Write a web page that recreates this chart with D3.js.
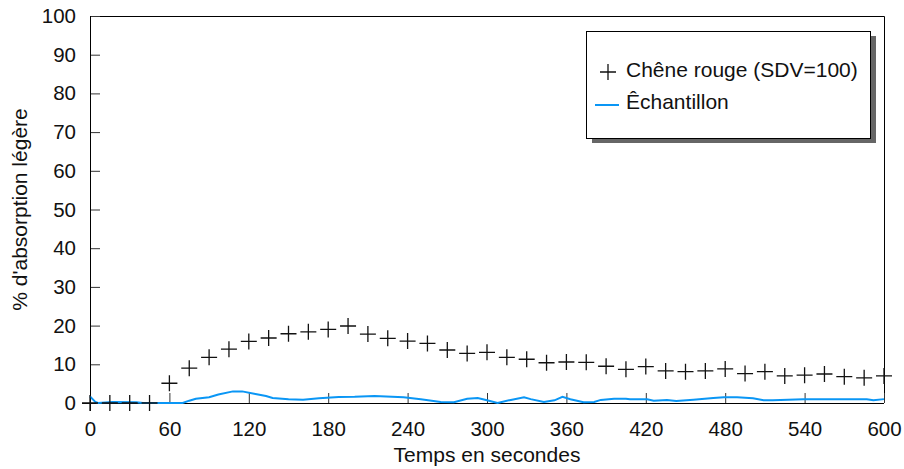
<!DOCTYPE html>
<html lang="fr">
<head>
<meta charset="UTF-8">
<title>Absorption légère</title>
<style>
body { margin: 0; background: #fff; }
text { font-family: "Liberation Sans", Arial, sans-serif; }
.axis .domain { display: none; }
</style>
</head>
<body>
<svg width="904" height="469"></svg>
<script src="https://d3js.org/d3.v7.min.js"></script>
<script>

// reference series: one marker every 15 s
var refTimes = [0, 15, 30, 45, 60, 75, 90, 105, 120, 135, 150, 165, 180, 195, 210, 225, 240, 255, 270, 285,
                300, 315, 330, 345, 360, 375, 390, 405, 420, 435, 450, 465, 480, 495, 510, 525, 540, 555, 570, 585, 600];
var refValues = [0, 0, 0, 0, 5.1, 9.0, 11.8, 13.9, 15.9, 16.8, 17.9, 18.4, 19.0, 19.9, 17.8, 16.7, 16.0, 15.4, 13.7, 12.8,
                 13.1, 11.8, 11.3, 10.4, 10.6, 10.5, 9.5, 8.7, 9.4, 8.3, 8.1, 8.3, 8.8, 7.6, 8.1, 7.0, 7.2, 7.5, 6.8, 6.5, 7.0];

// sample curve
var sampleTimes = [0, 4, 6, 17, 35, 40, 70, 75, 80, 90, 97, 108, 115, 125, 133, 138, 150, 161, 173, 188,
                   200, 215, 237, 250, 265, 275, 285, 293, 300, 308, 318, 328, 333, 343, 351, 357, 363, 373, 381, 386,
                   396, 405, 408, 421, 426, 436, 443, 456, 471, 479, 489, 501, 509, 516, 539, 564, 587, 592, 600];
var sampleValues = [1.7, 0.3, 0, 0.25, 0.2, 0, 0, 0.6, 1.1, 1.5, 2.2, 3.0, 3.0, 2.3, 1.8, 1.3, 0.95, 0.85, 1.2, 1.55,
                    1.6, 1.8, 1.5, 0.95, 0.25, 0.2, 1.1, 1.3, 0.7, 0, 0.8, 1.5, 1.0, 0.25, 0.7, 1.6, 0.95, 0.2, 0.25, 0.8,
                    1.1, 1.1, 0.95, 0.95, 0.6, 0.8, 0.5, 0.85, 1.3, 1.5, 1.5, 1.2, 0.7, 0.7, 1.0, 0.95, 0.95, 0.7, 1.0];

var xTicks = [0, 60, 120, 180, 240, 300, 360, 420, 480, 540, 600];
var yTicks = [0, 10, 20, 30, 40, 50, 60, 70, 80, 90, 100];
var seriesNames = ["Chêne rouge (SDV=100)", "Êchantillon"];
var xTitle = "Temps en secondes",
    yTitle = "% d'absorption légère";

var svg = d3.select("svg"),
    margin = {top: 16, right: 20, bottom: 66, left: 90},
    width = +svg.attr("width") - margin.left - margin.right,
    height = +svg.attr("height") - margin.top - margin.bottom,
    g = svg.append("g").attr("transform", "translate(" + margin.left + "," + margin.top + ")");

var x = d3.scaleLinear().domain([0, 600]).range([0, width]);
var y = d3.scaleLinear().domain([0, 100]).range([height, 0]);
var blue = "#0a96f5";

// frame (top + right)
g.append("path")
    .attr("d", "M0,0.5H" + (width + 0.5) + "V" + height)
    .attr("fill", "none")
    .attr("stroke", "#000");

// ticks point inward
g.append("g")
    .attr("class", "axis")
    .attr("transform", "translate(0," + height + ")")
    .call(d3.axisBottom(x).tickValues(xTicks).tickSize(-10).tickPadding(18))
    .call(function(a) {
      a.selectAll("line").attr("stroke", "#333");
      a.selectAll("text").attr("font-size", 20.5).attr("fill", "#111")
        .attr("font-family", "Liberation Sans, Arial, sans-serif");
    });

g.append("g")
    .attr("class", "axis")
    .call(d3.axisLeft(y).tickValues(yTicks).tickSize(-10).tickPadding(14))
    .call(function(a) {
      a.selectAll("line").attr("stroke", "#333");
      a.selectAll("text").attr("font-size", 20.5).attr("fill", "#111")
        .attr("font-family", "Liberation Sans, Arial, sans-serif");
    });

// axis lines, crossing a little past the origin
g.append("line")
    .attr("x1", -8).attr("x2", width)
    .attr("y1", y(0) + 0.5).attr("y2", y(0) + 0.5)
    .attr("stroke", "#000");
g.append("line")
    .attr("x1", 0.5).attr("x2", 0.5)
    .attr("y1", 0).attr("y2", y(0) + 8)
    .attr("stroke", "#000");

// sample line
var sample = sampleTimes.map(function(t, i) { return {t: t, v: sampleValues[i]}; });
g.append("path")
    .datum(sample)
    .attr("fill", "none")
    .attr("stroke", blue)
    .attr("stroke-width", 2)
    .attr("d", d3.line().x(function(d) { return x(d.t); }).y(function(d) { return y(d.v); }));

// reference markers
var plus = function(s) { return "M" + (-s) + ",0H" + s + "M0," + (-s) + "V" + s; };
g.append("g")
  .selectAll("path")
  .data(refTimes.map(function(t, i) { return {t: t, v: refValues[i]}; }))
  .enter().append("path")
    .attr("transform", function(d) { return "translate(" + x(d.t) + "," + y(d.v) + ")"; })
    .attr("d", plus(8))
    .attr("stroke", "#111")
    .attr("stroke-width", 1.3);

// axis titles
svg.append("text")
    .attr("x", margin.left + width / 2)
    .attr("y", 462)
    .attr("text-anchor", "middle")
    .attr("font-size", 21)
    .attr("fill", "#111")
    .text(xTitle);

svg.append("text")
    .attr("transform", "translate(27," + (margin.top + height / 2) + ") rotate(-90)")
    .attr("text-anchor", "middle")
    .attr("font-size", 21)
    .attr("fill", "#111")
    .text(yTitle);

// legend
var legend = svg.append("g").attr("transform", "translate(586,31)");
legend.append("rect")
    .attr("x", 6).attr("y", 5)
    .attr("width", 284).attr("height", 107)
    .attr("fill", "#666");
legend.append("rect")
    .attr("x", 0.5).attr("y", 0.5)
    .attr("width", 284).attr("height", 107)
    .attr("fill", "#fff")
    .attr("stroke", "#000");

legend.append("path")
    .attr("transform", "translate(22,41)")
    .attr("d", plus(8))
    .attr("stroke", "#111")
    .attr("stroke-width", 1.3);
legend.append("line")
    .attr("x1", 9).attr("x2", 33)
    .attr("y1", 74).attr("y2", 74)
    .attr("stroke", blue)
    .attr("stroke-width", 2);

legend.selectAll("text.lbl")
  .data(seriesNames)
  .enter().append("text")
    .attr("class", "lbl")
    .attr("x", 40)
    .attr("y", function(d, i) { return 46 + i * 32; })
    .attr("font-size", 21)
    .attr("fill", "#111")
    .text(function(d) { return d; });

</script>
</body>
</html>
